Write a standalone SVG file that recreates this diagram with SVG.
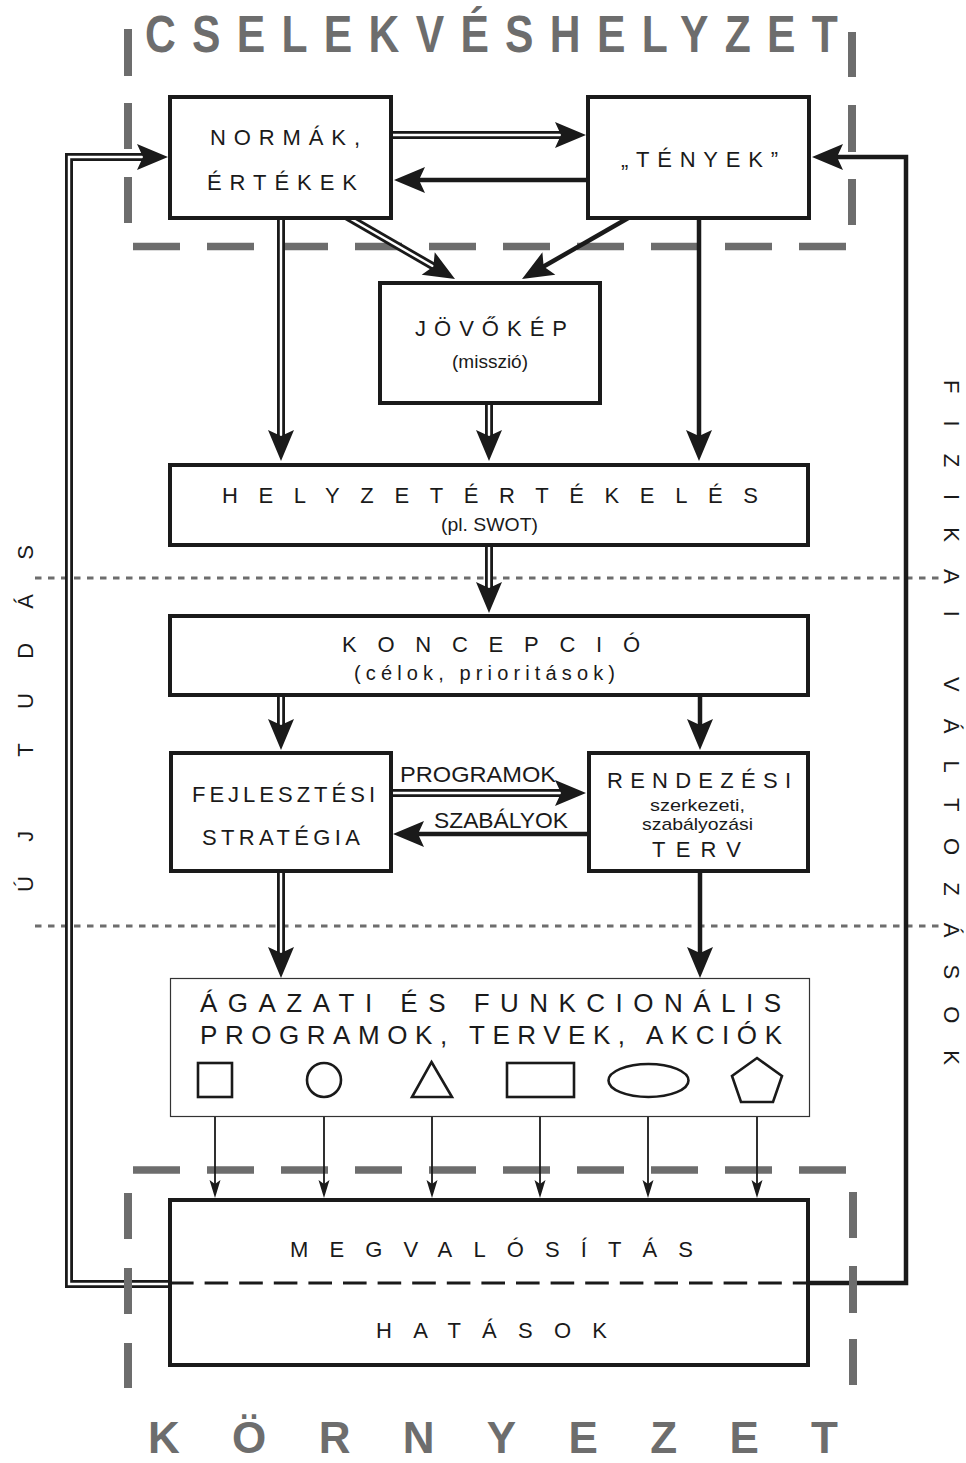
<svg xmlns="http://www.w3.org/2000/svg" width="966" height="1463" viewBox="0 0 966 1463">
<style>
text{font-family:"Liberation Sans",Arial,sans-serif;fill:#1a1a1a}
.t{font-size:22px}
.s{font-size:18px}
.xs{font-size:17px}
.big{font-size:26px}
.ttl{font-weight:bold;fill:#6d6d6d}
.box{fill:#fff;stroke:#1a1a1a;stroke-width:4}
.thin{fill:#fff;stroke:#333;stroke-width:1.2}
.shape{fill:#fff;stroke:#1a1a1a;stroke-width:2.6}
.fr{stroke:#6d6d6d;stroke-width:8;fill:none}
.frh{stroke:#6d6d6d;stroke-width:7.5;fill:none;stroke-dasharray:47 27}
.dot{stroke:#6d6d6d;stroke-width:3;stroke-dasharray:6.5 6.5;fill:none}
.ln{stroke:#1a1a1a;stroke-width:4.5;fill:none}
.dO{stroke:#1a1a1a;stroke-width:8;fill:none}
.dI{stroke:#fff;stroke-width:2.4;fill:none}
.sm{stroke:#1a1a1a;stroke-width:1.8;fill:none}
.hd{fill:#1a1a1a}
.cut{stroke:#1a1a1a;stroke-width:3;fill:none;stroke-dasharray:23.6 11}
</style>
<defs>
<path id="ah" d="M0,0 L-31,-13 L-25,0 L-31,13 Z"/>
<path id="sh" d="M0,0 L-18,-5.5 L-14,0 L-18,5.5 Z"/>
</defs>

<g id="frame">
<path class="fr" d="M128,29V76 M128,103V149 M128,177V223 M852,32V77 M852,105V152 M852,179V225"/>
<path class="frh" d="M133,246.5H846"/>
<path class="frh" d="M133,1170H846"/>
<path class="fr" d="M128,1193V1239 M128,1343V1388 M853,1192V1238 M853,1339V1385"/>
<text class="ttl" font-size="52" transform="translate(145,52) scale(0.82,1)" textLength="845" lengthAdjust="spacing">CSELEKVÉSHELYZET</text>
<text class="ttl" font-size="44" x="148" y="1453" textLength="690" lengthAdjust="spacing">KÖRNYEZET</text>
</g>

<g id="dividers">
<path class="dot" d="M35,578H942"/>
<path class="dot" d="M35,926H942"/>
</g>

<g id="side-labels">
<text class="t" transform="translate(33,892) rotate(-90)" textLength="347" lengthAdjust="spacing">ÚJ TUDÁS</text>
<text class="t" transform="translate(944,380) rotate(90)" textLength="685" lengthAdjust="spacing">FIZIKAI VÁLTOZÁSOK</text>
</g>

<g id="connectors">
<!-- left feedback loop (double) -->
<path class="dO" d="M170,1284H69V157H148"/>
<path class="dI" d="M170,1284H69V157H148"/>
<use href="#ah" class="hd" transform="translate(168,157)"/>
<!-- right feedback loop -->
<path class="ln" d="M808,1283H906V157H832"/>
<use href="#ah" class="hd" transform="translate(812,157) rotate(180)"/>
<!-- normak -> tenyek -->
<path class="dO" d="M392,135H564"/>
<path class="dI" d="M392,135H564"/>
<use href="#ah" class="hd" transform="translate(586,135)"/>
<!-- tenyek -> normak -->
<path class="ln" d="M588,180H416"/>
<use href="#ah" class="hd" transform="translate(394,180) rotate(180)"/>
<!-- normak down -->
<path class="dO" d="M281,216V440"/>
<path class="dI" d="M281,216V440"/>
<use href="#ah" class="hd" transform="translate(281,461) rotate(90)"/>
<!-- normak -> jovokep diagonal -->
<path class="dO" d="M346,216L436,268"/>
<path class="dI" d="M346,216L436,268"/>
<use href="#ah" class="hd" transform="translate(455,279) rotate(30.2)"/>
<!-- tenyek -> jovokep diagonal -->
<path class="ln" d="M630,217L541,268"/>
<use href="#ah" class="hd" transform="translate(522,279) rotate(150.1)"/>
<!-- tenyek down -->
<path class="ln" d="M699,216V442"/>
<use href="#ah" class="hd" transform="translate(699,461) rotate(90)"/>
<!-- jovokep down -->
<path class="dO" d="M489,403V440"/>
<path class="dI" d="M489,403V440"/>
<use href="#ah" class="hd" transform="translate(489,461) rotate(90)"/>
<!-- helyzet -> koncepcio -->
<path class="dO" d="M489,545V592"/>
<path class="dI" d="M489,545V592"/>
<use href="#ah" class="hd" transform="translate(489,613) rotate(90)"/>
<!-- koncepcio -> fejlesztesi -->
<path class="dO" d="M281,695V728"/>
<path class="dI" d="M281,695V728"/>
<use href="#ah" class="hd" transform="translate(281,750) rotate(90)"/>
<!-- koncepcio -> rendezesi -->
<path class="ln" d="M700,695V730"/>
<use href="#ah" class="hd" transform="translate(700,750) rotate(90)"/>
<!-- programok -->
<path class="dO" d="M390,793H564"/>
<path class="dI" d="M390,793H564"/>
<use href="#ah" class="hd" transform="translate(586,793)"/>
<!-- szabalyok -->
<path class="ln" d="M590,834H414"/>
<use href="#ah" class="hd" transform="translate(393,834) rotate(180)"/>
<!-- fejlesztesi down -->
<path class="dO" d="M281,871V956"/>
<path class="dI" d="M281,871V956"/>
<use href="#ah" class="hd" transform="translate(281,978) rotate(90)"/>
<!-- rendezesi down -->
<path class="ln" d="M700,871V958"/>
<use href="#ah" class="hd" transform="translate(700,978) rotate(90)"/>
<!-- shape arrows -->
<path class="sm" d="M215,1097V1184 M324,1097V1184 M432,1097V1184 M540,1097V1184 M648,1097V1184 M757,1102V1184"/>
<use href="#sh" class="hd" transform="translate(215,1198) rotate(90)"/>
<use href="#sh" class="hd" transform="translate(324,1198) rotate(90)"/>
<use href="#sh" class="hd" transform="translate(432,1198) rotate(90)"/>
<use href="#sh" class="hd" transform="translate(540,1198) rotate(90)"/>
<use href="#sh" class="hd" transform="translate(648,1198) rotate(90)"/>
<use href="#sh" class="hd" transform="translate(757,1198) rotate(90)"/>
</g>

<g id="frame-overlay">
<path class="fr" d="M128,1268V1314 M853,1266V1313"/>
</g>

<g id="normak">
<rect class="box" x="170" y="97" width="221" height="121"/>
<text class="t" x="210" y="145" textLength="150" lengthAdjust="spacing">NORMÁK,</text>
<text class="t" x="207" y="190" textLength="150" lengthAdjust="spacing">ÉRTÉKEK</text>
</g>
<g id="tenyek">
<rect class="box" x="588" y="97" width="221" height="121"/>
<text class="t" x="621" y="167" textLength="157" lengthAdjust="spacing">„TÉNYEK”</text>
</g>
<g id="jovokep">
<rect class="box" x="380" y="283" width="220" height="120"/>
<text class="t" x="415" y="336" textLength="152" lengthAdjust="spacing">JÖVŐKÉP</text>
<text class="s" x="452" y="368" textLength="76" lengthAdjust="spacingAndGlyphs">(misszió)</text>
</g>
<g id="helyzetertekeles">
<rect class="box" x="170" y="465" width="638" height="80"/>
<text class="t" x="222" y="503" textLength="536" lengthAdjust="spacing">HELYZETÉRTÉKELÉS</text>
<text class="s" x="441" y="531" textLength="97" lengthAdjust="spacingAndGlyphs">(pl. SWOT)</text>
</g>
<g id="koncepcio">
<rect class="box" x="170" y="616" width="638" height="79"/>
<text class="t" x="342" y="652" textLength="298" lengthAdjust="spacing">KONCEPCIÓ</text>
<text x="354" y="680" textLength="261" lengthAdjust="spacing" style="font-size:20px">(célok, prioritások)</text>
</g>
<g id="fejlesztesi">
<rect class="box" x="171" y="753" width="220" height="118"/>
<text class="t" x="192" y="802" textLength="183" lengthAdjust="spacing">FEJLESZTÉSI</text>
<text class="t" x="202" y="845" textLength="158" lengthAdjust="spacing">STRATÉGIA</text>
</g>
<g id="rendezesi">
<rect class="box" x="589" y="753" width="219" height="118"/>
<text class="t" x="607" y="788" textLength="184" lengthAdjust="spacing">RENDEZÉSI</text>
<text class="xs" x="650" y="811" textLength="95" lengthAdjust="spacingAndGlyphs">szerkezeti,</text>
<text class="xs" x="642" y="830" textLength="111" lengthAdjust="spacingAndGlyphs">szabályozási</text>
<text class="t" x="652" y="857" textLength="89" lengthAdjust="spacing">TERV</text>
</g>
<g id="edge-labels">
<text class="t" x="400" y="782" textLength="156" lengthAdjust="spacingAndGlyphs">PROGRAMOK</text>
<text class="t" x="434" y="828" textLength="134" lengthAdjust="spacingAndGlyphs">SZABÁLYOK</text>
</g>
<g id="agazati">
<rect class="thin" x="170.5" y="978.5" width="639" height="138"/>
<text class="big" x="200" y="1012" textLength="581" lengthAdjust="spacing">ÁGAZATI ÉS FUNKCIONÁLIS</text>
<text class="big" x="200" y="1044" textLength="582" lengthAdjust="spacing">PROGRAMOK, TERVEK, AKCIÓK</text>
<rect class="shape" x="198" y="1063" width="34" height="34"/>
<ellipse class="shape" cx="324" cy="1080" rx="17" ry="17"/>
<polygon class="shape" points="431.5,1062 452,1097 412,1097"/>
<rect class="shape" x="507" y="1063" width="67" height="34"/>
<ellipse class="shape" cx="648.5" cy="1080.5" rx="40" ry="16.5"/>
<polygon class="shape" points="757,1058 782,1076 773,1102 741,1102 732,1076"/>
</g>
<g id="megvalositas">
<rect class="box" x="170" y="1200" width="638" height="165"/>
<path class="cut" d="M170,1283H808"/>
<text class="t" x="290" y="1257" textLength="403" lengthAdjust="spacing">MEGVALÓSÍTÁS</text>
<text class="t" x="376" y="1338" textLength="231" lengthAdjust="spacing">HATÁSOK</text>
</g>
</svg>
